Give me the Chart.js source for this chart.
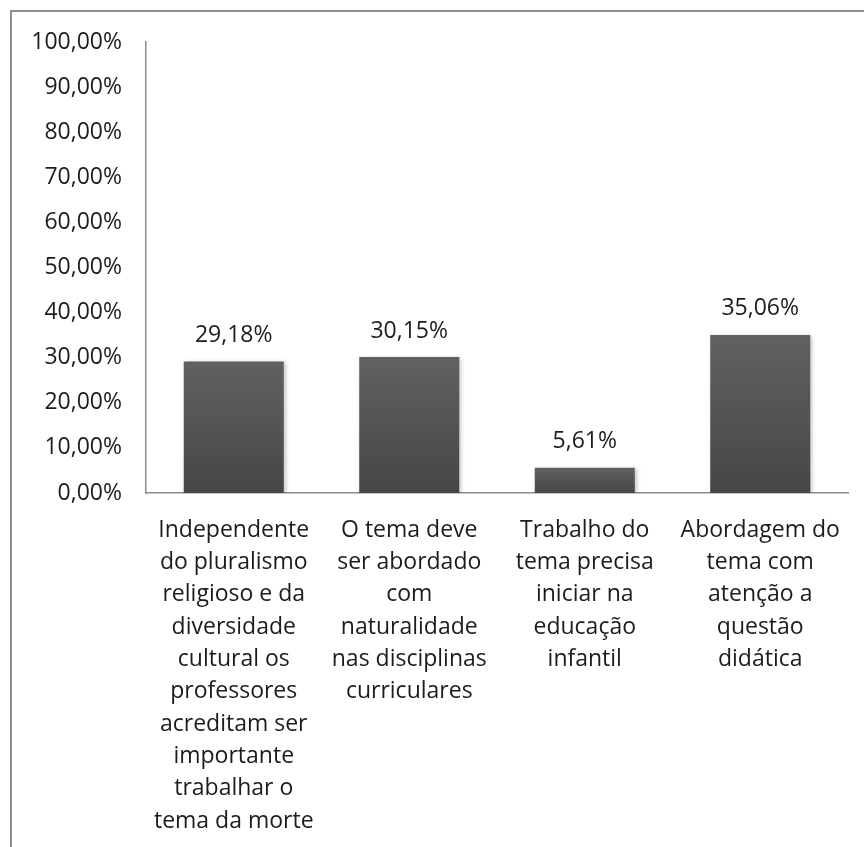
<!DOCTYPE html>
<html lang="pt">
<head>
  <meta charset="UTF-8" />
  <title>Tema da morte</title>
  <script src="https://cdn.jsdelivr.net/npm/chart.js"></script>
  <style>
    html, body { margin: 0; padding: 0; background: #fff; }
    #wrap { position: relative; width: 864px; height: 847px; overflow: hidden; }
    /* outer frame: only top and left edges are inside the page */
    #frame { position: absolute; left: 10px; top: 10px; width: 900px; height: 900px;
             border-top: 2px solid #8e8e8e; border-left: 2px solid #8e8e8e; }
    #chart { position: absolute; left: 0; top: 0; }
  </style>
</head>
<body>
  <div id="wrap">
    <div id="frame"></div>
    <canvas id="chart" width="864" height="847"></canvas>
  </div>

  <script>
    const categories = [
      ['Independente', 'do pluralismo', 'religioso e da', 'diversidade', 'cultural os', 'professores', 'acreditam ser', 'importante', 'trabalhar o', 'tema da morte'],
      ['O tema deve', 'ser abordado', 'com', 'naturalidade', 'nas disciplinas', 'curriculares'],
      ['Trabalho do', 'tema precisa', 'iniciar na', 'educação', 'infantil'],
      ['Abordagem do', 'tema com', 'atenção a', 'questão', 'didática']
    ];
    const percentages = [29.18, 30.15, 5.61, 35.06];
    const yTicks = [0, 10, 20, 30, 40, 50, 60, 70, 80, 90, 100];

    const fmt = v => v.toFixed(2).replace('.', ',') + '%';
    const font = "'Open Sans', sans-serif";
    const textColor = '#1c1c1c';

    // value labels above each bar
    const valueLabels = {
      id: 'valueLabels',
      afterDatasetsDraw(chart) {
        const ctx = chart.ctx;
        const meta = chart.getDatasetMeta(0);
        ctx.save();
        ctx.font = '23px ' + font;
        ctx.fillStyle = textColor;
        ctx.textAlign = 'center';
        ctx.textBaseline = 'middle';
        meta.data.forEach((bar, i) => {
          ctx.fillText(fmt(percentages[i]), bar.x, bar.y - 26);
        });
        ctx.restore();
      }
    };

    // soft shadow behind the bars
    const barShadow = {
      id: 'barShadow',
      beforeDatasetsDraw(chart) {
        const ctx = chart.ctx;
        ctx.save();
        ctx.shadowColor = 'rgba(0,0,0,0.22)';
        ctx.shadowBlur = 4;
        ctx.shadowOffsetX = 2;
        ctx.shadowOffsetY = 1;
      },
      afterDatasetsDraw(chart) {
        chart.ctx.restore();
      }
    };

    new Chart(document.getElementById('chart'), {
      type: 'bar',
      data: {
        labels: categories,
        datasets: [{
          data: percentages,
          backgroundColor: c => {
            const chart = c.chart;
            if (!chart.chartArea) return '#545454';
            const y = chart.scales.y;
            const top = y.getPixelForValue(c.raw);
            const g = chart.ctx.createLinearGradient(0, top, 0, y.getPixelForValue(0));
            g.addColorStop(0, '#616161');
            g.addColorStop(1, '#464646');
            return g;
          },
          borderWidth: 0,
          barPercentage: 0.57,
          categoryPercentage: 1
        }]
      },
      options: {
        responsive: false,
        animation: false,
        layout: { padding: { left: 0, top: 42, right: 16, bottom: 0 } },
        plugins: {
          legend: { display: false },
          tooltip: { enabled: false }
        },
        scales: {
          x: {
            grid: { display: false, drawTicks: false },
            border: { color: '#8c8c8c', width: 1.5 },
            ticks: {
              color: textColor,
              padding: 21,
              maxRotation: 0,
              autoSkip: false,
              font: { family: font, size: 23, lineHeight: 1.405 }
            },
            afterFit: s => { s.height = 354; }
          },
          y: {
            min: 0,
            max: 100,
            afterBuildTicks: s => { s.ticks = yTicks.map(v => ({ value: v })); },
            grid: { display: false, drawTicks: false },
            border: { color: '#8c8c8c', width: 1.5 },
            ticks: {
              color: textColor,
              padding: 24,
              font: { family: font, size: 23 },
              callback: v => fmt(v)
            },
            afterFit: s => { s.width = 146; }
          }
        }
      },
      plugins: [barShadow, valueLabels]
    });
  </script>
</body>
</html>
